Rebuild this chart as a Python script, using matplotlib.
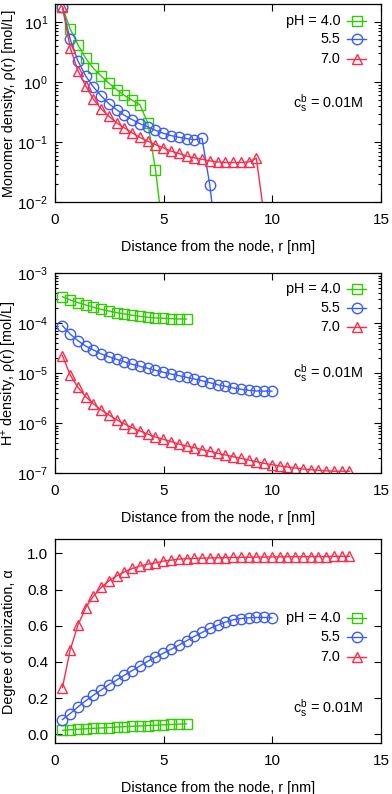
import numpy as np
import matplotlib
matplotlib.use("Agg")
import matplotlib.pyplot as plt
from matplotlib.ticker import LogLocator, FixedLocator, NullFormatter, FuncFormatter

plt.rcParams['font.family'] = ['Liberation Sans', 'DejaVu Sans']
plt.rcParams['mathtext.fontset'] = 'custom'
plt.rcParams['mathtext.rm'] = 'Liberation Sans'
plt.rcParams['mathtext.it'] = 'Liberation Sans:italic'
plt.rcParams['mathtext.default'] = 'regular'

# ---------------- data ----------------
dr = 0.357
r0 = 0.34
labels = ["pH = 4.0", "5.5", "7.0"]
colors = ["#2ecc00", "#3a5cff", "#ff2a4a"]
markers = ["s", "o", "^"]

# panel 1: monomer density (mol/L)
mono_40 = [18, 7.7, 4.2, 2.5, 1.7, 1.27, 0.96, 0.75, 0.6, 0.5, 0.42, 0.21, 0.035, 0.003]
mono_55 = [18, 5.2, 2.26, 1.27, 0.83, 0.59, 0.437, 0.348, 0.28, 0.238, 0.203, 0.18,
           0.158, 0.141, 0.129, 0.121, 0.115, 0.110, 0.116, 0.0194, 0.0015]
mono_70 = [18, 3.75, 1.56, 0.87, 0.52, 0.357, 0.27, 0.21, 0.173, 0.143, 0.12, 0.104,
           0.091, 0.081, 0.071, 0.065, 0.059, 0.055, 0.052, 0.049, 0.047, 0.046,
           0.046, 0.046, 0.047, 0.054, 0.006]

# panel 2: H+ density (mol/L)
h_40 = [3.4e-4, 2.93e-4, 2.59e-4, 2.33e-4, 2.09e-4, 1.9e-4, 1.76e-4, 1.63e-4, 1.54e-4,
        1.45e-4, 1.38e-4, 1.32e-4, 1.28e-4, 1.26e-4, 1.24e-4, 1.22e-4, 1.22e-4]
h_55 = [9.0e-5, 6.1e-5, 4.5e-5, 3.5e-5, 2.93e-5, 2.44e-5, 2.15e-5, 1.9e-5, 1.69e-5,
        1.51e-5, 1.38e-5, 1.26e-5, 1.15e-5, 1.05e-5, 9.7e-6, 9.0e-6, 8.3e-6, 7.7e-6,
        7.1e-6, 6.5e-6, 5.9e-6, 5.5e-6, 5.1e-6, 4.8e-6, 4.57e-6, 4.43e-6, 4.4e-6, 4.4e-6]
h_70 = [2.26e-5, 9.3e-6, 5.25e-6, 3.4e-6, 2.44e-6, 1.85e-6, 1.47e-6, 1.17e-6, 9.7e-7,
        8.2e-7, 7.0e-7, 6.1e-7, 5.3e-7, 4.8e-7, 4.3e-7, 3.86e-7, 3.52e-7, 3.26e-7,
        2.97e-7, 2.75e-7, 2.51e-7, 2.33e-7, 2.15e-7, 2.0e-7, 1.85e-7, 1.71e-7, 1.58e-7,
        1.49e-7, 1.4e-7, 1.34e-7, 1.28e-7, 1.22e-7, 1.18e-7, 1.15e-7, 1.12e-7, 1.1e-7,
        1.1e-7, 1.1e-7]

# panel 3: degree of ionization
a_40 = [0.022, 0.025, 0.028, 0.030, 0.033, 0.035, 0.037, 0.040, 0.042, 0.044, 0.046,
        0.048, 0.050, 0.052, 0.054, 0.056, 0.058]
a_55 = [0.081, 0.114, 0.151, 0.185, 0.216, 0.245, 0.275, 0.300, 0.327, 0.352, 0.378,
        0.404, 0.426, 0.448, 0.470, 0.493, 0.517, 0.541, 0.563, 0.585, 0.603, 0.620,
        0.633, 0.640, 0.644, 0.646, 0.646, 0.644]
a_70 = [0.258, 0.465, 0.603, 0.700, 0.764, 0.812, 0.849, 0.876, 0.898, 0.917, 0.930,
        0.941, 0.948, 0.958, 0.963, 0.969, 0.971, 0.973, 0.974, 0.975, 0.976, 0.977,
        0.978, 0.979, 0.979, 0.980, 0.980, 0.981, 0.981, 0.982, 0.982, 0.982, 0.983,
        0.983, 0.983, 0.984, 0.984, 0.984]

xlabel = "Distance from the node, r [nm]"
ylabels = ["Monomer density, ρ(r) [mol/L]",
           "H$^{+}$ density, ρ(r) [mol/L]",
           "Degree of ionization, α"]
annot = "c$_{s}^{b}$ = 0.01M"

def rgrid(vals):
    return r0 + dr * np.arange(len(vals))

FS = 10.4
TFS = 11
fig = plt.figure(figsize=(3.92, 7.94), dpi=100)
W, H = 392.0, 794.0
left, right = 55, 381
boxes = [(4, 202.3), (273.3, 473.3), (539, 743.3)]
axes = []
for top, bot in boxes:
    ax = fig.add_axes([left / W, 1 - bot / H, (right - left) / W, (bot - top) / H])
    axes.append(ax)

datasets = [[mono_40, mono_55, mono_70], [h_40, h_55, h_70], [a_40, a_55, a_70]]
ms = [6.5, 7.5, 7.5]

def logfmt(v, pos):
    e = int(round(np.log10(v)))
    return "10$^{%d}$" % e

for k, ax in enumerate(axes):
    for vals, c, m, s in zip(datasets[k], colors, markers, ms):
        ax.plot(rgrid(vals), vals, color=c, marker=m, markersize=s, mfc='none',
                mec=c, mew=1.0, lw=1.0, clip_on=True)
    ax.set_xlim(0, 15)
    ax.set_xticks([0, 5, 10, 15])
    ax.set_xlabel(xlabel, fontsize=FS, labelpad=9)
    ax.set_ylabel(ylabels[k], fontsize=FS, va='center')
    ax.tick_params(which='both', direction='in', top=True, right=True, labelsize=TFS,
                   width=0.8)
    ax.tick_params(axis='x', pad=8)
    ax.tick_params(axis='y', pad=5)
    ax.tick_params(which='major', length=5)
    ax.tick_params(which='minor', length=2.5)
    for sp in ax.spines.values():
        sp.set_linewidth(0.9)
    if k < 2:
        ax.set_yscale('log')
        ax.yaxis.set_major_locator(LogLocator(base=10, numticks=10))
        ax.yaxis.set_minor_locator(LogLocator(base=10, subs=np.arange(2, 10), numticks=20))
        ax.yaxis.set_minor_formatter(NullFormatter())
        ax.yaxis.set_major_formatter(FuncFormatter(logfmt))
    ax.xaxis.set_minor_locator(FixedLocator([]))

axes[0].set_ylim(0.01, 20)
axes[1].set_ylim(1e-7, 1e-3)
axes[2].set_ylim(-0.05, 1.08)
axes[2].set_yticks([0.0, 0.2, 0.4, 0.6, 0.8, 1.0])
axes[2].yaxis.set_major_formatter(FuncFormatter(lambda v, p: "%.1f" % v))

for ax in axes:
    ax.yaxis.set_label_coords(-0.14, 0.5)

# legends (manual, gnuplot style) and annotation, positions in pixels
leg_rows = [[20.7, 39.3, 59.0], [289.3, 308.3, 326.7], [617.7, 636.7, 656.7]]
annot_y = [103, 373, 708]
for k, ax in enumerate(axes):
    for row_y, lab, c, m, s in zip(leg_rows[k], labels, colors, markers, ms):
        yf = 1 - row_y / H
        fig.text(340 / W, yf, lab, ha='right', va='center', fontsize=FS)
        fig.lines.append(plt.Line2D([347 / W, 366 / W], [yf, yf], transform=fig.transFigure,
                                    color=c, lw=1.0))
        fig.lines.append(plt.Line2D([356.5 / W], [yf], transform=fig.transFigure,
                                    color=c, marker=m, markersize=s, mfc='none', mec=c,
                                    mew=1.0, lw=0))
    fig.text(363 / W, 1 - annot_y[k] / H, annot, ha='right', va='center', fontsize=FS)

fig.savefig("out.png", dpi=100)
